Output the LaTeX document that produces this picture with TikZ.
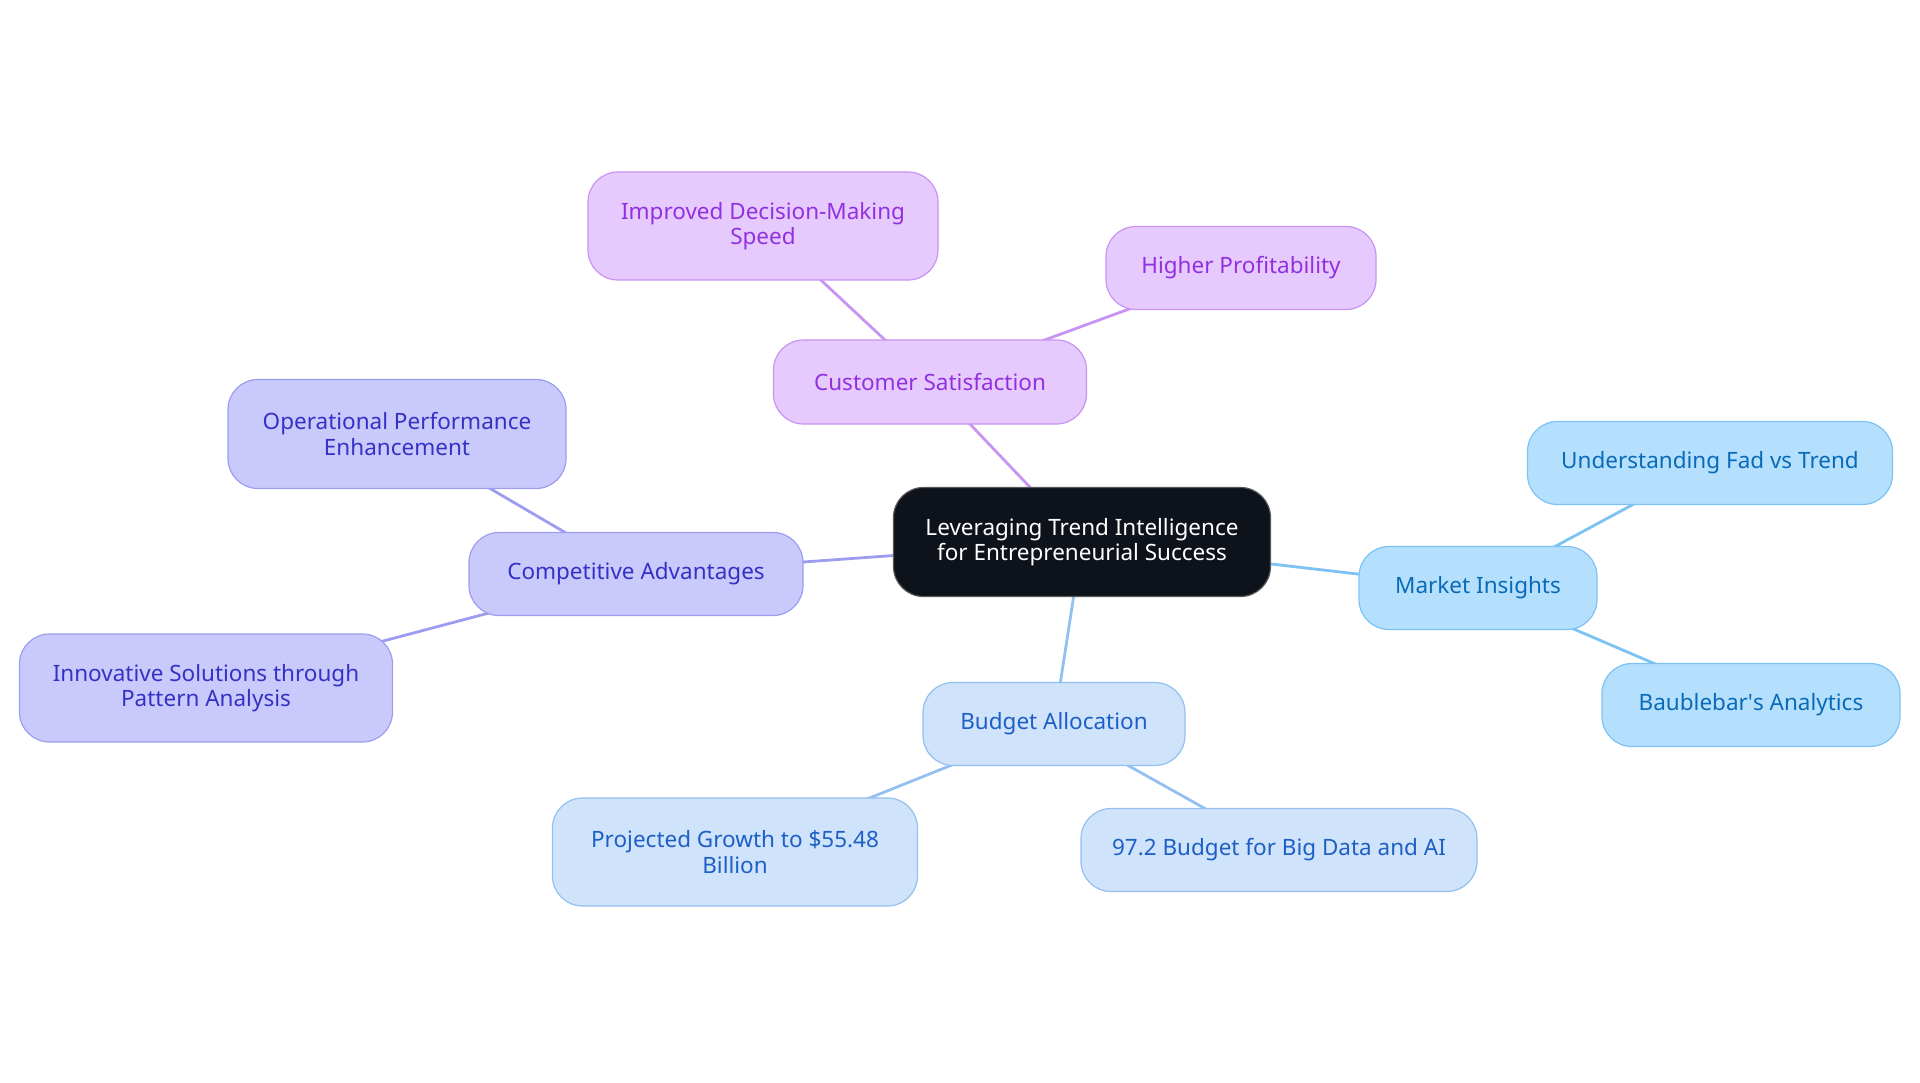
\documentclass[tikz,border=0pt]{standalone}
\usepackage{fontspec}
\setmainfont{Noto Sans}
\usepackage{xcolor}
\usetikzlibrary{backgrounds}

\definecolor{rootfill}{HTML}{0D121B}
\definecolor{purfill}{HTML}{E6CAFD}
\definecolor{purline}{HTML}{C993F1}
\definecolor{purtext}{HTML}{9230DF}
\definecolor{lavfill}{HTML}{C9CAFB}
\definecolor{lavline}{HTML}{9C9DF1}
\definecolor{lavtext}{HTML}{3431C4}
\definecolor{skyfill}{HTML}{B4E0FD}
\definecolor{skyline}{HTML}{7CC2F3}
\definecolor{skytext}{HTML}{0A6AB8}
\definecolor{budfill}{HTML}{CFE3FB}
\definecolor{budline}{HTML}{93BFF1}
\definecolor{budtext}{HTML}{1E5FC6}

\tikzset{
  topic/.style={rectangle, rounded corners=30pt, draw, line width=1.2pt, align=center,
    inner sep=0pt, font=\fontsize{22.5}{25.5}\selectfont},
  rootnode/.style={topic, fill=rootfill, draw=gray!70!black, text=white},
  purnode/.style={topic, fill=purfill, draw=purline, text=purtext},
  lavnode/.style={topic, fill=lavfill, draw=lavline, text=lavtext},
  skynode/.style={topic, fill=skyfill, draw=skyline, text=skytext},
  budnode/.style={topic, fill=budfill, draw=budline, text=budtext},
  link/.style={line width=2.8pt}
}

\begin{document}
\begin{tikzpicture}[x=1pt, y=-1pt]
          \useasboundingbox (0,0) rectangle (1920,1083);

          \node[rootnode, minimum width=377pt, minimum height=109pt] (root) at (1082,542) {Leveraging Trend Intelligence\\for Entrepreneurial Success};

          \node[purnode, minimum width=313pt, minimum height=84pt] (satisfy) at (930,382) {Customer Satisfaction};
          \node[purnode, minimum width=350pt, minimum height=108pt] (speed) at (763,226) {Improved Decision-Making\\Speed};
          \node[purnode, minimum width=270pt, minimum height=83pt] (profit) at (1241,268) {Higher Profitability};

          \node[lavnode, minimum width=334pt, minimum height=83pt] (compete) at (636,574) {Competitive Advantages};
          \node[lavnode, minimum width=338pt, minimum height=109pt] (operate) at (397,434) {Operational Performance\\Enhancement};
          \node[lavnode, minimum width=373pt, minimum height=108pt] (innovate) at (206,688) {Innovative Solutions through\\Pattern Analysis};

          \node[skynode, minimum width=238pt, minimum height=83pt] (market) at (1478,588) {Market Insights};
          \node[skynode, minimum width=365pt, minimum height=83pt] (fad) at (1710,463) {Understanding Fad vs Trend};
          \node[skynode, minimum width=298pt, minimum height=83pt] (bauble) at (1751,705) {Baublebar\textquotesingle s Analytics};

          \node[budnode, minimum width=262pt, minimum height=83pt] (budget) at (1054,724) {Budget Allocation};
          \node[budnode, minimum width=365pt, minimum height=108pt] (growth) at (735,852) {Projected Growth to \$55.48\\Billion};
          \node[budnode, minimum width=396pt, minimum height=83pt] (bigdata) at (1279,850) {97.2 Budget for Big Data and AI};

          % links run centre to centre behind the boxes
          \begin{pgfonlayer}{background}
          \draw[link, purline] (root.center) -- (satisfy.center);
          \draw[link, purline] (satisfy.center) -- (speed.center);
          \draw[link, purline] (satisfy.center) -- (profit.center);
          \draw[link, lavline] (root.center) -- (compete.center);
          \draw[link, lavline] (compete.center) -- (operate.center);
          \draw[link, lavline] (compete.center) -- (innovate.center);
          \draw[link, skyline] (root.center) -- (market.center);
          \draw[link, skyline] (market.center) -- (fad.center);
          \draw[link, skyline] (market.center) -- (bauble.center);
          \draw[link, budline] (root.center) -- (budget.center);
          \draw[link, budline] (budget.center) -- (growth.center);
          \draw[link, budline] (budget.center) -- (bigdata.center);
          \end{pgfonlayer}
        \end{tikzpicture}
\end{document}
